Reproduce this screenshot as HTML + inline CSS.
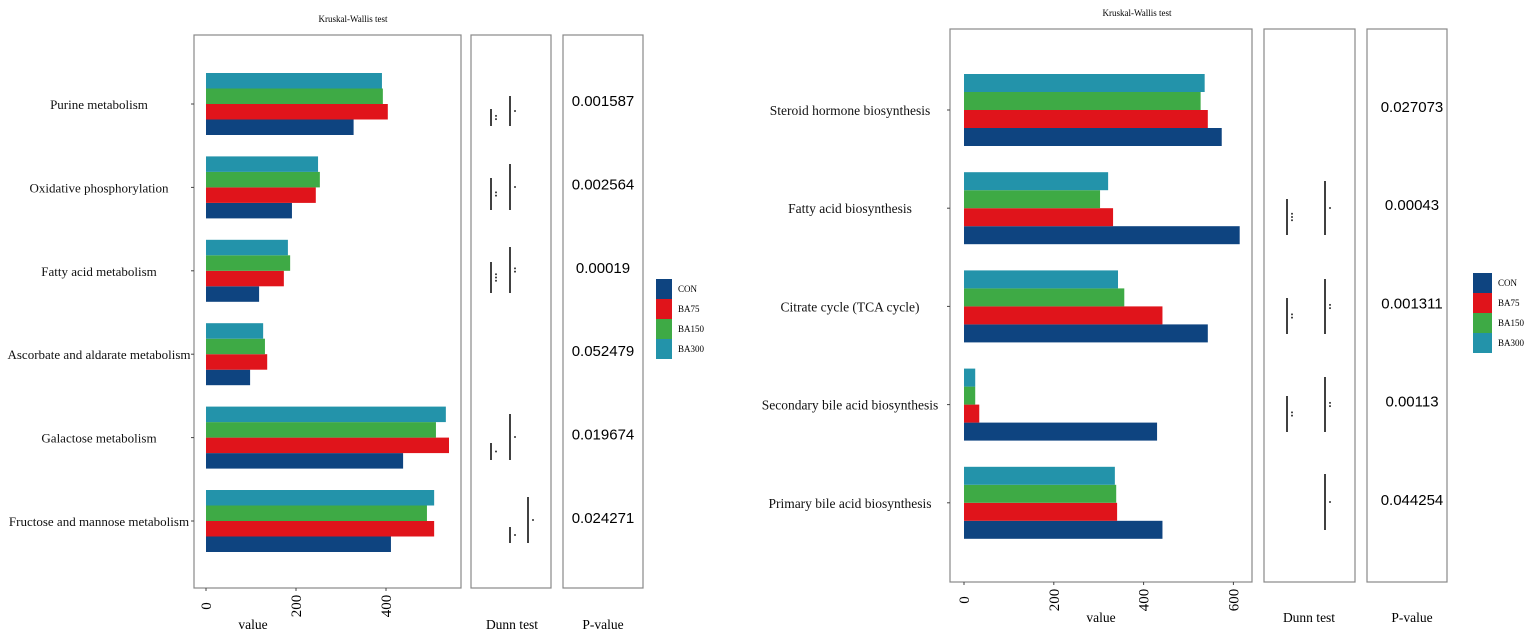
<!DOCTYPE html>
<html><head><meta charset="utf-8"><style>
body{margin:0;background:#fff;}
svg{display:block;font-family:"Liberation Serif",serif;}
.pv{font-family:"Liberation Sans",sans-serif;font-size:15px;}
</style></head><body>
<svg id="c" width="1535" height="638" viewBox="0 0 1535 638"></svg>
<script>
const groups=["CON","BA75","BA150","BA300"];
const colors=["#0E4480","#E0141B","#3EAA45","#2393AA"];
// Left panel data
const leftCats=["Purine metabolism","Oxidative phosphorylation","Fatty acid metabolism","Ascorbate and aldarate metabolism","Galactose metabolism","Fructose and mannose metabolism"];
const leftCON=[328,191,118,98,438,411];
const leftBA75=[404,244,173,136,540,507];
const leftBA150=[393,253,187,131,511,491];
const leftBA300=[391,249,182,127,533,507];
const leftP=["0.001587","0.002564","0.00019","0.052479","0.019674","0.024271"];
const leftTicks=[0,200,400];
// Right panel data
const rightCats=["Steroid hormone biosynthesis","Fatty acid biosynthesis","Citrate cycle (TCA cycle)","Secondary bile acid biosynthesis","Primary bile acid biosynthesis"];
const rightCON=[574,614,543,430,442];
const rightBA75=[543,332,442,34,341];
const rightBA150=[527,303,357,25,339];
const rightBA300=[536,321,343,25,336];
const rightP=["0.027073","0.00043","0.001311","0.00113","0.044254"];
const rightTicks=[0,200,400,600];
// Dunn marks: [x, y1, y2, label]
const leftDunn=[[[491,109,126,":"],[510,96,126,"*"]],[[491,178,210,":"],[510,164,210,"*"]],[[491,262,293,"***"],[510,247,293,":"]],[],[[491,443,460,"*"],[510,414,460,"*"]],[[510,527,543,"*"],[528,497,543,"*"]]];
const rightDunn=[[],[[1287,199,235,"***"],[1325,181,235,"*"]],[[1287,298,334,":"],[1325,279,334,":"]],[[1287,396,432,":"],[1325,377,432,":"]],[[1325,474,530,"*"]]];

const svg=document.getElementById('c');
const NS="http://www.w3.org/2000/svg";
function mk(t,a,p){const e=document.createElementNS(NS,t);for(const k in a)e.setAttribute(k,a[k]);(p||svg).appendChild(e);return e;}

function panel(cfg){
  const g=mk('g',{});
  
  
  const x=v=>cfg.x0+v*cfg.k;
  const t=mk('text',{x:cfg.titleX,y:cfg.titleY,'font-size':9,'text-anchor':'middle'},g);t.textContent="Kruskal-Wallis test";
  
  
  const boxes=[[cfg.bx1,cfg.bx2,'plot-box'],[cfg.dx1,cfg.dx2,'dunn-box'],[cfg.px1,cfg.px2,'pvalue-box']];
  boxes.forEach(b=>{const r=mk('rect',{x:b[0],y:cfg.top,width:b[1]-b[0],height:cfg.bot-cfg.top,fill:'none',stroke:'#888','stroke-width':1.2},g);
    
    });
  const series=[cfg.con,cfg.ba75,cfg.ba150,cfg.ba300];
  cfg.cats.forEach((c,i)=>{
    const cy=cfg.c0+i*cfg.step;
    const lb=mk('text',{x:cfg.labX,y:cy+5,'font-size':cfg.labFs,'text-anchor':'middle',fill:'#111'},g);lb.textContent=c;
    
    
    mk('line',{x1:cfg.bx1-3,x2:cfg.bx1,y1:cy,y2:cy,stroke:'#444'},g);
    for(let s=0;s<4;s++){
      const yTop=cy+cfg.bh*(1-s);
      const r=mk('rect',{x:x(0),y:yTop,width:series[s][i]*cfg.k,height:cfg.bh,fill:colors[s]},g);
      
      
    }
    const p=mk('text',{x:cfg.pvX,y:cy+2,'text-anchor':'middle',class:'pv'},g);p.textContent=cfg.pv[i];
    
    
    cfg.dunn[i].forEach(d=>{
      const l=mk('line',{x1:d[0],x2:d[0],y1:d[1],y2:d[2],stroke:'#111','stroke-width':1.6},g);
      
      
      const n=d[3]===':'?2:d[3].length;
      for(let j=0;j<n;j++)mk('circle',{cx:d[0]+5,cy:(d[1]+d[2])/2-(n-1)*1.6+j*3.2,r:1,fill:'#333'},g);
    });
  });
  cfg.ticks.forEach(v=>{
    mk('line',{x1:x(v),x2:x(v),y1:cfg.bot,y2:cfg.bot+3,stroke:'#444'},g);
    const tt=mk('text',{x:0,y:0,'font-size':15,'text-anchor':'middle',transform:`translate(${x(v)+5},${cfg.tickY}) rotate(-90)`},g);tt.textContent=v;
    
    
  });
  [[cfg.valX,'value','x-axis-title'],[cfg.dunnX,'Dunn test','dunn-title'],[cfg.pvX,'P-value','pvalue-title']].forEach(a=>{
    const e=mk('text',{x:a[0],y:cfg.axY,'font-size':13.5,'text-anchor':'middle'},g);e.textContent=a[1];
    
    
  });
  const lg=mk('g',{},g);
  
  
  groups.forEach((n,s)=>{
    mk('rect',{x:cfg.lgX,y:cfg.lgY+s*cfg.lgH,width:cfg.lgW,height:cfg.lgH,fill:colors[s]},lg);
    const e=mk('text',{x:cfg.lgX+cfg.lgW+6,y:cfg.lgY+s*cfg.lgH+cfg.lgH/2+3,'font-size':9},lg);e.textContent=n;
    
    
  });
}
panel({name:'left-panel',cats:leftCats,con:leftCON,ba75:leftBA75,ba150:leftBA150,ba300:leftBA300,pv:leftP,ticks:leftTicks,dunn:leftDunn,
  x0:206,k:0.45,c0:104,step:83.4,bh:15.5,top:35,bot:588,bx1:194,bx2:461,dx1:471,dx2:551,px1:563,px2:643,labFs:13,
  labX:99,pvX:603,titleX:353,titleY:22,tickY:606,axY:629,valX:253,dunnX:512,lgX:656,lgY:279,lgW:16,lgH:20});
panel({name:'right-panel',cats:rightCats,con:rightCON,ba75:rightBA75,ba150:rightBA150,ba300:rightBA300,pv:rightP,ticks:rightTicks,dunn:rightDunn,
  x0:964,k:0.449,c0:110,step:98.2,bh:18,top:29,bot:582,bx1:950,bx2:1252,dx1:1264,dx2:1355,px1:1367,px2:1447,labFs:13.5,
  labX:850,pvX:1412,titleX:1137,titleY:16,tickY:600,axY:622,valX:1101,dunnX:1309,lgX:1473,lgY:273,lgW:19,lgH:20});
</script>
</body></html>
